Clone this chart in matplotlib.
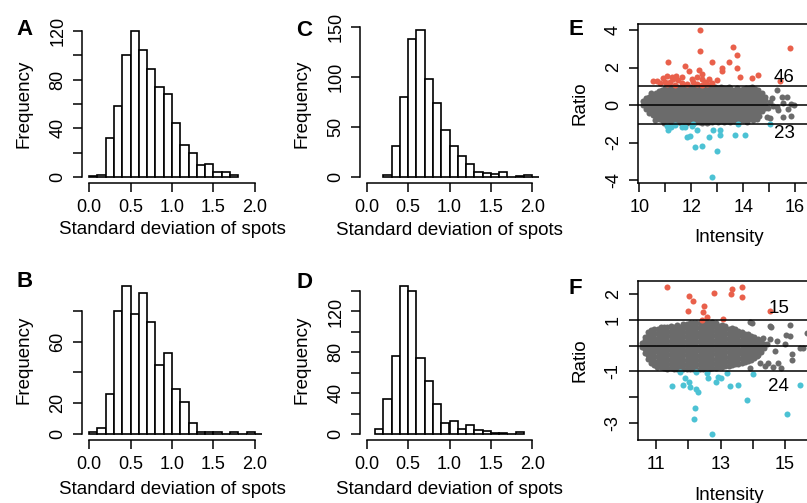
import numpy as np
import matplotlib.pyplot as plt

plt.rcParams['font.family'] = ['Liberation Sans', 'DejaVu Sans']

W, H = 807, 503

# histogram counts (bin width 0.1), first bin start
bin_width = 0.1
a_counts = [1, 2, 32, 58, 100, 120, 104, 89, 74, 68, 44, 26, 20, 10, 11, 4, 4, 2]
a_start = 0.0
b_counts = [1, 4, 26, 80, 96, 78, 92, 73, 45, 53, 29, 21, 7, 1, 1, 1, 0, 1, 0, 1, 0]
b_start = 0.0
c_counts = [2, 31, 80, 138, 147, 98, 74, 47, 31, 21, 13, 5, 4, 3, 5, 0, 1, 2, 0]
c_start = 0.2
d_counts = [5, 34, 76, 145, 140, 74, 52, 29, 11, 13, 5, 9, 4, 3, 1, 1, 0, 2]
d_start = 0.1

sd_ticks = [0.0, 0.5, 1.0, 1.5, 2.0]
sd_labels = ['0.0', '0.5', '1.0', '1.5', '2.0']
a_yticks = [0, 20, 40, 60, 80, 100, 120]
a_ylabels = ['0', '', '40', '', '80', '', '120']
b_yticks = [0, 20, 40, 60, 80]
b_ylabels = ['0', '20', '', '60', '']
c_yticks = [0, 50, 100, 150]
c_ylabels = ['0', '50', '100', '150']
d_yticks = [0, 20, 40, 60, 80, 100, 120, 140]
d_ylabels = ['0', '', '40', '', '80', '', '120', '']

# panel E: gray cloud by intensity column, plus sparse/colored points
e_gray_cols = [
    (10.16, [0.02, 0.22]),
    (10.27, [-0.22, 0.0, 0.18, 0.38]),
    (10.39, [-0.42, -0.2, 0.02, 0.22, 0.45]),
    (10.51, [-0.55, -0.33, -0.12, 0.1, 0.3, 0.55]),
    (10.63, [-0.68, -0.45, -0.25, -0.04, 0.18, 0.4, 0.62]),
    (10.75, [-0.72, -0.52, -0.3, -0.1, 0.1, 0.32, 0.52, 0.74]),
    (10.87, [-0.82, -0.6, -0.4, -0.18, 0.02, 0.24, 0.44, 0.64, 0.8]),
    (10.99, [-0.88, -0.66, -0.45, -0.24, -0.04, 0.16, 0.38, 0.58, 0.8, 0.93]),
    (11.11, [-0.94, -0.72, -0.5, -0.3, -0.1, 0.1, 0.3, 0.52, 0.72, 0.92]),
    (11.23, [-0.9, -0.7, -0.48, -0.28, -0.06, 0.14, 0.34, 0.55, 0.76, 0.95]),
    (11.35, [-0.95, -0.74, -0.52, -0.32, -0.12, 0.08, 0.28, 0.5, 0.7, 0.9]),
    (11.47, [-0.92, -0.7, -0.5, -0.3, -0.1, 0.12, 0.32, 0.52, 0.74, 0.94]),
    (11.59, [-0.96, -0.75, -0.54, -0.33, -0.13, 0.08, 0.28, 0.48, 0.7, 0.9]),
    (11.71, [-0.9, -0.7, -0.48, -0.27, -0.06, 0.14, 0.35, 0.56, 0.77, 0.96]),
    (11.83, [-0.94, -0.73, -0.52, -0.3, -0.1, 0.1, 0.3, 0.5, 0.72, 0.93]),
    (11.95, [-0.92, -0.7, -0.5, -0.28, -0.08, 0.13, 0.33, 0.54, 0.75, 0.95]),
    (12.07, [-0.96, -0.74, -0.53, -0.32, -0.12, 0.09, 0.3, 0.5, 0.7, 0.91]),
    (12.19, [-0.9, -0.68, -0.47, -0.26, -0.05, 0.15, 0.36, 0.57, 0.78, 0.96]),
    (12.31, [-0.93, -0.72, -0.5, -0.3, -0.1, 0.1, 0.32, 0.52, 0.72, 0.92]),
    (12.43, [-0.95, -0.74, -0.52, -0.31, -0.11, 0.1, 0.3, 0.5, 0.71, 0.93]),
    (12.55, [-0.9, -0.7, -0.48, -0.28, -0.07, 0.13, 0.34, 0.55, 0.75, 0.95]),
    (12.67, [-0.88, -0.67, -0.46, -0.25, -0.05, 0.16, 0.36, 0.56, 0.77, 0.94]),
    (12.79, [-0.9, -0.7, -0.5, -0.3, -0.1, 0.1, 0.3, 0.5, 0.7, 0.9]),
    (12.91, [-0.86, -0.65, -0.44, -0.23, -0.03, 0.17, 0.38, 0.58, 0.78, 0.95]),
    (13.03, [-0.9, -0.7, -0.49, -0.28, -0.08, 0.12, 0.33, 0.53, 0.73, 0.92]),
    (13.15, [-0.87, -0.66, -0.45, -0.25, -0.04, 0.16, 0.37, 0.57, 0.77, 0.94]),
    (13.27, [-0.9, -0.7, -0.48, -0.28, -0.08, 0.13, 0.33, 0.53, 0.74, 0.9]),
    (13.39, [-0.85, -0.64, -0.43, -0.22, -0.02, 0.18, 0.38, 0.58, 0.78, 0.93]),
    (13.51, [-0.88, -0.68, -0.47, -0.26, -0.06, 0.14, 0.35, 0.55, 0.75, 0.9]),
    (13.63, [-0.84, -0.63, -0.42, -0.21, 0.0, 0.2, 0.4, 0.6, 0.8]),
    (13.75, [-0.86, -0.66, -0.45, -0.24, -0.04, 0.16, 0.36, 0.57, 0.77, 0.9]),
    (13.87, [-0.82, -0.6, -0.4, -0.2, 0.0, 0.2, 0.42, 0.62, 0.82]),
    (13.99, [-0.8, -0.58, -0.38, -0.17, 0.03, 0.24, 0.44, 0.65, 0.86]),
    (14.11, [-0.78, -0.56, -0.35, -0.14, 0.06, 0.27, 0.48, 0.68, 0.9]),
    (14.23, [-0.72, -0.5, -0.3, -0.1, 0.1, 0.3, 0.5, 0.7, 0.92]),
    (14.35, [-0.62, -0.42, -0.22, -0.02, 0.18, 0.38, 0.58, 0.8, 0.94]),
    (14.47, [-0.52, -0.32, -0.12, 0.08, 0.28, 0.48, 0.7, 0.86]),
    (14.59, [-0.42, -0.22, -0.02, 0.18, 0.38, 0.6, 0.78]),
    (14.71, [-0.3, -0.1, 0.1, 0.3, 0.5, 0.66]),
    (14.83, [-0.15, 0.05, 0.25, 0.45]),
]
e_gray_x = [14.39, 14.52, 14.6, 14.78, 14.84, 14.91, 14.97, 15.04, 15.04, 15.16, 15.29, 15.29,
            15.36, 15.49, 15.55, 15.55, 15.68, 15.74, 15.83, 15.83, 15.94, 15.12,
            10.45, 10.62, 10.95, 11.3, 12.6, 13.45, 14.15]
e_gray_y = [-0.8, -0.77, -0.6, 0.44, -0.09, -0.62, -0.18, 0.18, -0.71, -0.05, 0.8, -0.09,
            -0.27, 0.41, 0.09, -0.62, 0.44, -0.23, 0.04, -0.59, 0.0, 0.35,
            0.62, -0.8, -0.98, 0.98, -0.97, 0.97, -0.9]
e_red_x = [12.34, 12.34, 13.62, 15.81, 13.75, 11.12, 11.76, 12.79, 13.46, 13.2, 13.17, 13.75,
           11.93, 12.31, 13.88, 14.35, 14.58, 11.05, 11.41, 11.5, 11.28, 11.18, 10.99, 10.67,
           10.54, 12.21, 12.4, 12.08, 12.53, 12.7, 12.98, 12.4, 10.8, 11.63, 11.82, 11.05,
           11.37, 12.21, 12.59, 15.42, 11.63, 11.25, 12.02, 12.79, 10.92, 12.4]
e_red_y = [4.0, 2.9, 3.11, 3.06, 2.67, 2.28, 2.1, 2.29, 2.28, 2.0, 1.83, 1.99,
           1.83, 1.87, 1.48, 1.46, 1.6, 1.55, 1.55, 1.33, 1.37, 1.24, 1.24, 1.28,
           1.28, 1.51, 1.37, 1.24, 1.24, 1.39, 1.33, 1.65, 1.15, 1.19, 1.12, 1.12,
           1.06, 1.12, 1.12, 1.3, 1.48, 1.51, 1.37, 1.15, 1.42, 1.06]
e_blue_x = [12.79, 12.15, 12.4, 12.98, 12.7, 13.11, 11.85, 11.95, 13.68, 14.07, 11.12, 11.05,
            11.37, 11.63, 11.76, 12.08, 12.21, 12.82, 13.11, 13.81, 15.04, 12.02, 11.24]
e_blue_y = [-3.86, -2.22, -2.17, -2.44, -1.69, -1.6, -1.69, -1.65, -1.6, -1.6, -1.33, -1.12,
            -1.07, -1.16, -1.16, -1.02, -1.33, -1.33, -1.33, -1.02, -1.02, -1.12, -1.16]

# panel F
f_gray_cols = [
    (10.55, [-0.05, 0.1]),
    (10.65, [-0.3, -0.12, 0.05, 0.22, 0.35]),
    (10.75, [-0.52, -0.35, -0.18, 0.0, 0.18, 0.36, 0.52]),
    (10.85, [-0.68, -0.5, -0.32, -0.14, 0.04, 0.22, 0.4, 0.6]),
    (10.95, [-0.76, -0.58, -0.4, -0.22, -0.04, 0.14, 0.32, 0.5, 0.66]),
    (11.05, [-0.8, -0.62, -0.44, -0.26, -0.08, 0.1, 0.28, 0.46, 0.64]),
    (11.15, [-0.84, -0.66, -0.48, -0.3, -0.12, 0.06, 0.24, 0.42, 0.6, 0.72]),
    (11.25, [-0.86, -0.68, -0.5, -0.32, -0.14, 0.04, 0.22, 0.4, 0.58, 0.74]),
    (11.35, [-0.9, -0.72, -0.54, -0.36, -0.18, 0.0, 0.18, 0.36, 0.54, 0.72]),
    (11.45, [-0.88, -0.7, -0.52, -0.34, -0.16, 0.02, 0.2, 0.38, 0.56, 0.76]),
    (11.55, [-0.9, -0.72, -0.54, -0.36, -0.18, 0.0, 0.18, 0.36, 0.55, 0.74]),
    (11.65, [-0.92, -0.74, -0.56, -0.38, -0.2, -0.02, 0.16, 0.34, 0.52, 0.7, 0.8]),
    (11.75, [-0.9, -0.72, -0.54, -0.36, -0.18, 0.0, 0.18, 0.36, 0.54, 0.72]),
    (11.85, [-0.92, -0.74, -0.56, -0.38, -0.2, -0.02, 0.16, 0.34, 0.52, 0.7, 0.84]),
    (11.95, [-0.9, -0.72, -0.54, -0.36, -0.18, 0.0, 0.18, 0.36, 0.54, 0.72, 0.86]),
    (12.05, [-0.92, -0.74, -0.56, -0.38, -0.2, -0.02, 0.16, 0.34, 0.52, 0.7, 0.88]),
    (12.15, [-0.9, -0.72, -0.54, -0.36, -0.18, 0.0, 0.18, 0.36, 0.54, 0.72, 0.9]),
    (12.25, [-0.93, -0.75, -0.57, -0.39, -0.21, -0.03, 0.15, 0.33, 0.51, 0.69, 0.87]),
    (12.35, [-0.9, -0.72, -0.54, -0.36, -0.18, 0.0, 0.18, 0.36, 0.54, 0.72, 0.9]),
    (12.45, [-0.92, -0.74, -0.56, -0.38, -0.2, -0.02, 0.16, 0.34, 0.52, 0.7, 0.88]),
    (12.55, [-0.88, -0.7, -0.52, -0.34, -0.16, 0.02, 0.2, 0.38, 0.56, 0.74, 0.92]),
    (12.65, [-0.9, -0.72, -0.54, -0.36, -0.18, 0.0, 0.18, 0.36, 0.54, 0.72, 0.9]),
    (12.75, [-0.86, -0.68, -0.5, -0.32, -0.14, 0.04, 0.22, 0.4, 0.58, 0.76, 0.92]),
    (12.85, [-0.88, -0.7, -0.52, -0.34, -0.16, 0.02, 0.2, 0.38, 0.56, 0.74, 0.88]),
    (12.95, [-0.84, -0.66, -0.48, -0.3, -0.12, 0.06, 0.24, 0.42, 0.6, 0.78]),
    (13.05, [-0.82, -0.64, -0.46, -0.28, -0.1, 0.08, 0.26, 0.44, 0.62, 0.8]),
    (13.15, [-0.8, -0.62, -0.44, -0.26, -0.08, 0.1, 0.28, 0.46, 0.64, 0.76]),
    (13.25, [-0.78, -0.6, -0.42, -0.24, -0.06, 0.12, 0.3, 0.48, 0.66]),
    (13.35, [-0.74, -0.56, -0.38, -0.2, -0.02, 0.16, 0.34, 0.52, 0.68]),
    (13.45, [-0.72, -0.54, -0.36, -0.18, 0.0, 0.18, 0.36, 0.54, 0.64]),
    (13.55, [-0.7, -0.52, -0.34, -0.16, 0.02, 0.2, 0.38, 0.56]),
    (13.65, [-0.66, -0.48, -0.3, -0.12, 0.06, 0.24, 0.42, 0.54]),
    (13.75, [-0.62, -0.44, -0.26, -0.08, 0.1, 0.28, 0.46]),
    (13.85, [-0.6, -0.42, -0.24, -0.06, 0.12, 0.3, 0.44]),
    (13.95, [-0.54, -0.36, -0.18, 0.0, 0.18, 0.36]),
    (14.05, [-0.46, -0.28, -0.1, 0.08, 0.26, 0.34]),
    (14.15, [-0.38, -0.2, -0.02, 0.16, 0.28]),
    (14.25, [-0.26, -0.08, 0.1, 0.2]),
    (14.35, [-0.1, 0.08]),
]
f_gray_x = [13.91, 13.97, 14.53, 14.58, 15.16, 14.33, 14.53, 14.74, 15.0, 14.43, 14.7, 14.22,
            14.38, 14.64, 15.57, 15.21, 15.16, 14.02, 14.12, 14.89, 14.78, 15.21, 15.47, 15.03,
            15.67, 13.91, 11.02, 11.3, 14.48]
f_gray_y = [0.94, 0.89, 0.77, 0.72, 0.79, 0.31, 0.26, 0.18, 0.05, 0.05, -0.21, -0.69,
            -0.77, -0.82, -0.08, -0.34, 0.39, -0.17, -0.4, -0.88, -0.69, -0.56, -0.1, 0.42,
            0.48, -0.88, -0.82, -0.88, -0.66]
f_red_x = [11.35, 12.03, 12.16, 12.8, 13.35, 13.66, 13.32, 13.66, 12.49, 12.47, 11.98, 12.59,
           12.42, 13.09, 14.53]
f_red_y = [2.3, 1.95, 1.74, 2.06, 2.21, 2.3, 2.0, 1.9, 1.55, 1.31, 1.36, 1.13,
           1.0, 1.04, 1.35]
f_blue_x = [12.73, 12.18, 12.21, 13.81, 15.05, 11.49, 11.83, 11.9, 12.01, 12.24, 12.31, 11.74,
            12.23, 12.62, 12.85, 13.02, 12.93, 13.29, 13.55, 14.02, 15.47, 13.19, 12.57, 12.06]
f_blue_y = [-3.42, -2.87, -2.44, -2.12, -2.66, -1.57, -1.53, -1.27, -1.4, -1.7, -1.79, -1.01,
            -1.01, -1.27, -1.4, -1.27, -1.23, -1.57, -1.51, -1.1, -1.53, -1.08, -1.05, -1.6]

GRAY = '#6b6b6b'
RED = '#E9604B'
BLUE = '#4CC2D4'

fig = plt.figure(figsize=(W / 100, H / 100), dpi=100)


def px_axes(left, top, right, bottom):
    ax = fig.add_axes([left / W, 1 - bottom / H, (right - left) / W, (bottom - top) / H])
    return ax, right - left, bottom - top


def style_ticks(ax):
    ax.tick_params(direction='out', length=6.3, width=1.1, labelsize=13, pad=5.2)
    for t in ax.get_yticklabels():
        t.set_rotation(90)
        t.set_va('center')


def hist_panel(box, counts, start, yticks, ylabels, xlab_off):
    ax, w, h = px_axes(*box)
    edges = start + bin_width * np.arange(len(counts))
    ax.bar(edges, counts, width=bin_width, align='edge', color='white',
           edgecolor='black', linewidth=1.2)
    top = max(counts)
    ax.set_xlim(-0.08, 2.08)
    ax.set_ylim(-0.04 * top, 1.04 * top)
    for s in ['top', 'right']:
        ax.spines[s].set_visible(False)
    ax.spines['left'].set_bounds(0, yticks[-1])
    ax.spines['bottom'].set_bounds(0, 2)
    for s in ['left', 'bottom']:
        ax.spines[s].set_linewidth(1.1)
    ax.set_xticks(sd_ticks)
    ax.set_xticklabels(sd_labels)
    ax.set_yticks(yticks)
    ax.set_yticklabels(ylabels)
    style_ticks(ax)
    ax.set_xlabel('Standard deviation of spots', fontsize=13.5, va='center')
    ax.xaxis.set_label_coords(0.5, -xlab_off / h)
    ax.set_ylabel('Frequency', fontsize=13.5, va='center')
    ax.yaxis.set_label_coords(-58 / w, 0.5)
    return ax


def ma_panel(box, xlim, ylim, cols, gx, gy, rx, ry, bx, by, xticks, xlabels,
             yticks, ylabels, up_text, down_text):
    ax, w, h = px_axes(*box)
    cx = [x for x, ys in cols for _ in ys]
    cy = [y for _, ys in cols for y in ys]
    ax.scatter(cx + gx, cy + gy, s=19, color=GRAY, linewidths=0, zorder=2)
    ax.scatter(rx, ry, s=19, color=RED, linewidths=0, zorder=2)
    ax.scatter(bx, by, s=19, color=BLUE, linewidths=0, zorder=2)
    for y in [-1, 0, 1]:
        ax.axhline(y, color='black', linewidth=1.1, zorder=3)
    ax.text(*up_text, ha='center', va='center', fontsize=13.5, zorder=4)
    ax.text(*down_text, ha='center', va='center', fontsize=13.5, zorder=4)
    ax.set_xlim(xlim)
    ax.set_ylim(ylim)
    for s in ax.spines.values():
        s.set_linewidth(1.1)
    ax.set_xticks(xticks)
    ax.set_xticklabels(xlabels)
    ax.set_yticks(yticks)
    ax.set_yticklabels(ylabels)
    style_ticks(ax)
    ax.set_xlabel('Intensity', fontsize=13.5, va='center')
    ax.xaxis.set_label_coords(0.5, -55 / h)
    ax.set_ylabel('Ratio', fontsize=13.5, va='center')
    ax.yaxis.set_label_coords(-58 / w, 0.5)
    return ax


hist_panel((82.4, 25.2, 261.6, 182.8), a_counts, a_start, a_yticks, a_ylabels, 47)
hist_panel((82.4, 280.5, 261.6, 439.9), b_counts, b_start, b_yticks, b_ylabels, 50)
hist_panel((360.1, 23.8, 538.9, 183.2), c_counts, c_start, c_yticks, c_ylabels, 47)
hist_panel((360.1, 280.0, 538.9, 439.9), d_counts, d_start, d_yticks, d_ylabels, 50)

ma_panel((638, 24, 820, 183), (9.95, 16.96), (-4.16, 4.32), e_gray_cols, e_gray_x, e_gray_y,
         e_red_x, e_red_y, e_blue_x, e_blue_y,
         [10, 11, 12, 13, 14, 15, 16], ['10', '', '12', '', '14', '', '16'],
         [-4, -2, 0, 2, 4], ['-4', '-2', '0', '2', '4'],
         (15.59, 1.46, '46'), (15.59, -1.51, '23'))
ma_panel((637.7, 281, 820, 440), (10.43, 16.085), (-3.67, 2.52), f_gray_cols, f_gray_x, f_gray_y,
         f_red_x, f_red_y, f_blue_x, f_blue_y,
         [11, 12, 13, 14, 15], ['11', '', '13', '', '15'],
         [-3, -2, -1, 0, 1, 2], ['-3', '', '-1', '', '1', '2'],
         (14.80, 1.44, '15'), (14.80, -1.57, '24'))

for letter, x, y in [('A', 16, 35), ('C', 296, 36), ('E', 568, 35),
                     ('B', 17, 287), ('D', 296, 288), ('F', 568, 294)]:
    fig.text(x / W, 1 - y / H, letter, fontsize=16, fontweight='bold', va='baseline')

fig.savefig('out.png', dpi=100)
